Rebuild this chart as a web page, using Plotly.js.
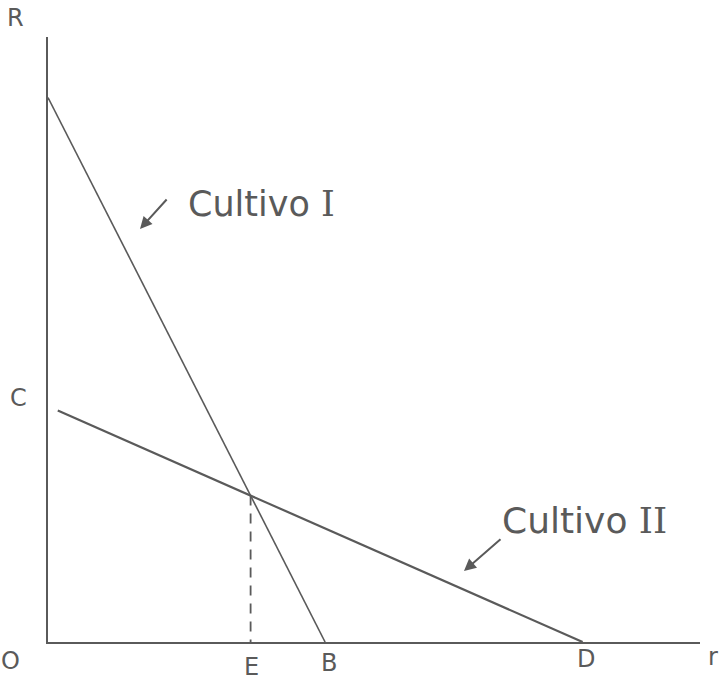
<!DOCTYPE html>
<html>
<head>
<meta charset="utf-8">
<script src="https://cdn.plot.ly/plotly-3.0.1.min.js"></script>
<style>
  html, body { margin: 0; padding: 0; background: #fff; }
  #chart { width: 721px; height: 681px; }
</style>
</head>
<body>
<div id="chart"></div>
<script>
// Rent (R) against distance (r) for two crops
const cropOneX = [0, 8.5];      // Cultivo I: from the R axis down to B
const cropOneY = [18.0, 0];
const cropTwoX = [0.3, 16.4];   // Cultivo II: from C down to D
const cropTwoY = [7.65, 0];
const pointLabels = ['R', 'O', 'C', 'E', 'B', 'D', 'r'];

// where the two rent lines cross (the point above E)
function lineAt(xs, ys, x) {
  const t = (x - xs[0]) / (xs[1] - xs[0]);
  return ys[0] + t * (ys[1] - ys[0]);
}
const s1 = (cropOneY[1] - cropOneY[0]) / (cropOneX[1] - cropOneX[0]);
const s2 = (cropTwoY[1] - cropTwoY[0]) / (cropTwoX[1] - cropTwoX[0]);
const b1 = cropOneY[0] - s1 * cropOneX[0];
const b2 = cropTwoY[0] - s2 * cropTwoX[0];
const crossX = (b2 - b1) / (s1 - s2);
const crossY = lineAt(cropOneX, cropOneY, crossX);

const ink = '#5a5a5a';
const hand = 'DejaVu Sans, sans-serif';

const traces = [
  { x: cropOneX, y: cropOneY, mode: 'lines', line: { color: ink, width: 1.6 }, hoverinfo: 'skip' },
  { x: cropTwoX, y: cropTwoY, mode: 'lines', line: { color: ink, width: 2.2 }, hoverinfo: 'skip' },
  { x: [crossX, crossX], y: [crossY, 0], mode: 'lines', line: { color: ink, width: 1.8, dash: '10px,8px' }, hoverinfo: 'skip' }
];

// paper coordinates for text placed around the plot area
const W = 652, H = 605, L = 48, T = 37;
function px(x) { return (x - L) / W; }
function py(y) { return (T + H - y) / H; }

function label(text, x, y, size) {
  return { text: text, x: px(x), y: py(y), xref: 'paper', yref: 'paper', showarrow: false,
           font: { family: hand, size: size || 24, color: ink }, xanchor: 'center', yanchor: 'middle' };
}

const annotations = [
  label(pointLabels[0], 15, 18),
  label(pointLabels[1], 10, 661),
  label(pointLabels[2], 18, 398),
  label(pointLabels[3], 251, 667),
  label(pointLabels[4], 329, 663),
  label(pointLabels[5], 586, 659),
  label(pointLabels[6], 713, 657),
  label('Cultivo <span style="font-family:DejaVu Serif">I</span>', 261, 204, 35),
  label('Cultivo <span style="font-family:DejaVu Serif">II</span>', 584, 520, 36),
  { text: '', x: px(140), y: py(229), xref: 'paper', yref: 'paper', showarrow: true,
    ax: 28, ay: -31, arrowhead: 2, arrowsize: 1.2, arrowwidth: 2, arrowcolor: ink },
  { text: '', x: px(464), y: py(571), xref: 'paper', yref: 'paper', showarrow: true,
    ax: 38, ay: -33, arrowhead: 2, arrowsize: 1.2, arrowwidth: 2, arrowcolor: ink }
];

const layout = {
  width: 721, height: 681,
  margin: { l: L, r: 721 - L - W, t: T, b: 681 - T - H },
  paper_bgcolor: '#ffffff', plot_bgcolor: '#ffffff',
  showlegend: false,
  xaxis: { range: [0, 20], showgrid: false, zeroline: false, showticklabels: false, ticks: '',
           showline: true, linecolor: ink, linewidth: 2 },
  yaxis: { range: [0, 20], showgrid: false, zeroline: false, showticklabels: false, ticks: '',
           showline: true, linecolor: ink, linewidth: 2.5 },
  annotations: annotations
};

Plotly.newPlot('chart', traces, layout, { displayModeBar: false, staticPlot: true });
</script>
</body>
</html>
